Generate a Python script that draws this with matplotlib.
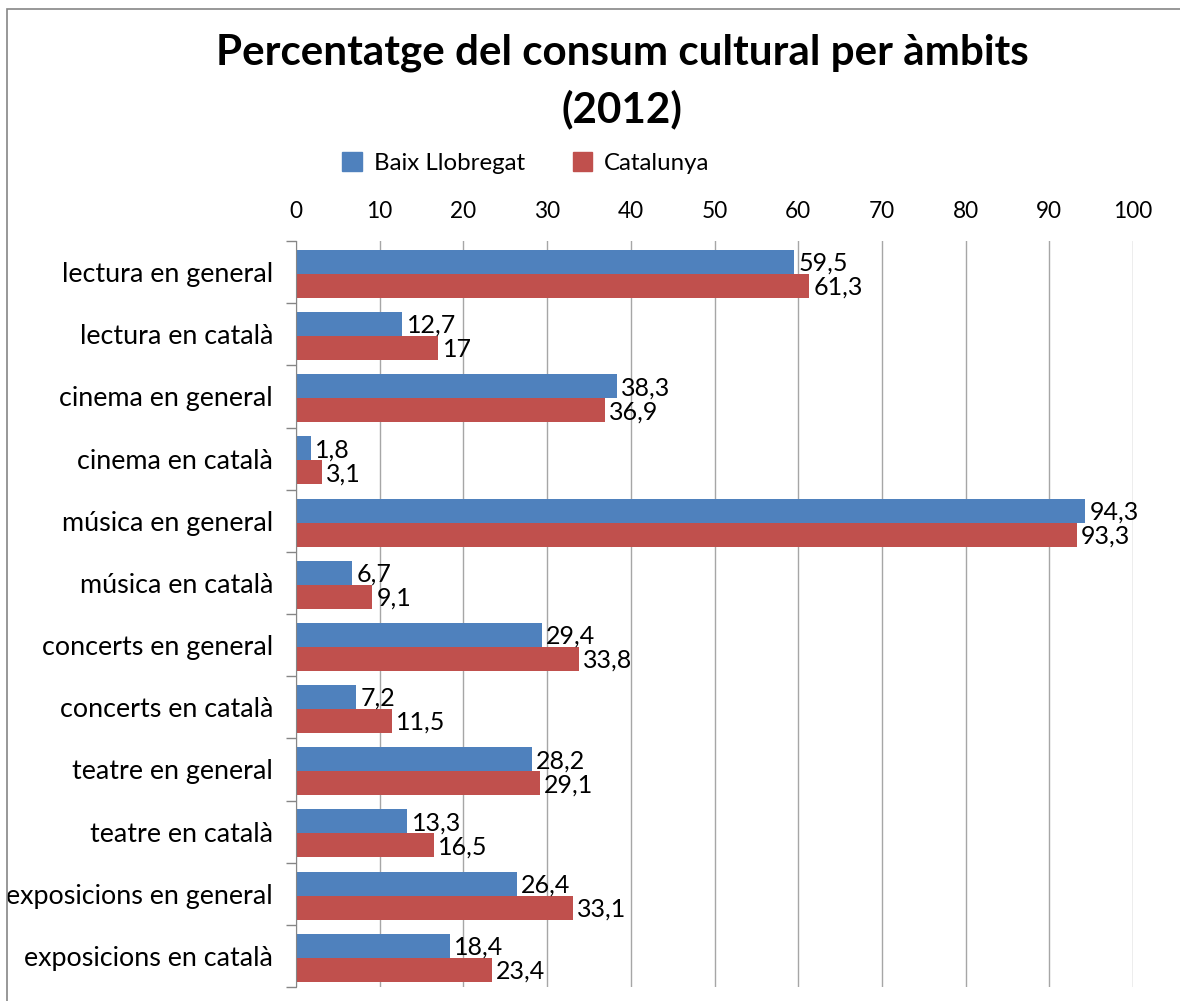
import matplotlib.pyplot as plt
from matplotlib.patches import Rectangle, Patch

categories = ['lectura en general', 'lectura en català', 'cinema en general',
              'cinema en català', 'música en general', 'música en català',
              'concerts en general', 'concerts en català', 'teatre en general',
              'teatre en català', 'exposicions en general', 'exposicions en català']
baix_llobregat = [59.5, 12.7, 38.3, 1.8, 94.3, 6.7, 29.4, 7.2, 28.2, 13.3, 26.4, 18.4]
catalunya = [61.3, 17, 36.9, 3.1, 93.3, 9.1, 33.8, 11.5, 29.1, 16.5, 33.1, 23.4]
x_ticks = list(range(0, 101, 10))

blue = '#4F81BD'
red = '#C0504D'
grid_col = '#A6A6A6'
axis_col = '#868686'

plt.rcParams['font.family'] = ['Lato', 'DejaVu Sans']

fig = plt.figure(figsize=(11.8, 10.01), dpi=100)
W, H = 1180, 1001
ax = fig.add_axes([296 / W, (H - 987) / H, (1133 - 296) / W, (987 - 241) / H])

# outer chart border (cut off at right/bottom like the original)
fig.patches.append(Rectangle((7 / W, -0.05), 1.2, (H - 9) / H + 0.05,
                             transform=fig.transFigure, fill=False,
                             edgecolor=axis_col, linewidth=1.2))

h = 0.386
pos = list(range(len(categories)))
b1 = ax.barh([p - h / 2 + 0.03 for p in pos], baix_llobregat, height=h, color=blue, zorder=3)
b2 = ax.barh([p + h / 2 + 0.03 for p in pos], catalunya, height=h, color=red, zorder=3)


def fmt(v):
    return f"{v:g}".replace('.', ',')


for bars, vals in ((b1, baix_llobregat), (b2, catalunya)):
    for bar, v in zip(bars, vals):
        ax.annotate(fmt(v), (bar.get_width(), bar.get_y() + bar.get_height() / 2),
                    xytext=(3, -1), textcoords='offset points', va='center', ha='left',
                    fontsize=18, zorder=4)

ax.set_xlim(0, 100)
ax.set_ylim(len(categories) - 0.5, -0.5)
ax.set_xticks(x_ticks)
ax.xaxis.tick_top()
ax.tick_params(axis='x', length=0, labelsize=16.3, pad=14)
ax.set_yticks(pos)
ax.set_yticklabels(categories)
ax.set_yticks([p - 0.5 for p in range(len(categories) + 1)], minor=True)
ax.tick_params(axis='y', which='major', length=0, labelsize=19.4, pad=16.5)
ax.tick_params(axis='y', which='minor', length=7, color=axis_col, width=1)
ax.grid(axis='x', color=grid_col, linewidth=1, zorder=0)
ax.set_axisbelow(True)
for s in ('top', 'right', 'bottom'):
    ax.spines[s].set_visible(False)
ax.spines['left'].set_color(axis_col)
ax.spines['left'].set_zorder(5)

fig.text(622 / W, 1 - 53 / H, 'Percentatge del consum cultural per àmbits',
         ha='center', va='center', fontsize=30.3, fontweight='bold')
fig.text(622 / W, 1 - 109 / H, '(2012)',
         ha='center', va='center', fontsize=30.3, fontweight='bold')

handles = [Patch(color=blue, label='Baix Llobregat'), Patch(color=red, label='Catalunya')]
fig.legend(handles=handles, loc='center', bbox_to_anchor=(526 / W, 1 - 163 / H), ncol=2,
           frameon=False, fontsize=17.3, handlelength=0.8, handleheight=0.8,
           handletextpad=0.5, columnspacing=2.0)

fig.savefig('out.png', dpi=100)
